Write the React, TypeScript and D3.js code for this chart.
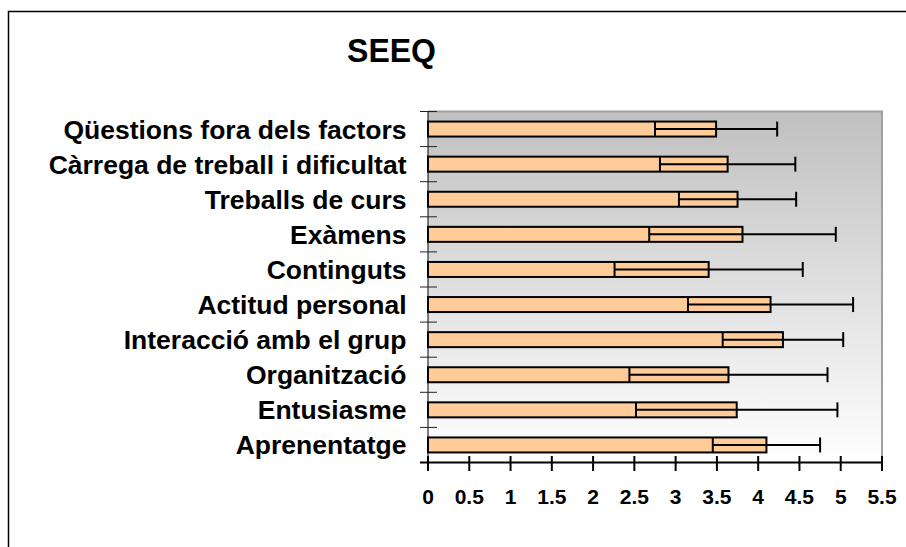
import React from "react";
import * as d3 from "d3";

const title = "SEEQ";
const categories = [
  "Qüestions fora dels factors",
  "Càrrega de treball i dificultat",
  "Treballs de curs",
  "Exàmens",
  "Continguts",
  "Actitud personal",
  "Interacció amb el grup",
  "Organització",
  "Entusiasme",
  "Aprenentatge",
];
const means = [3.49, 3.63, 3.75, 3.81, 3.4, 4.15, 4.3, 3.64, 3.74, 4.1];
const sds = [0.74, 0.82, 0.71, 1.13, 1.14, 1.0, 0.73, 1.2, 1.22, 0.65];
const xTicks = [0, 0.5, 1, 1.5, 2, 2.5, 3, 3.5, 4, 4.5, 5, 5.5];

const W = 906;
const H = 547;
const plot = { left: 428, right: 882, top: 111.5, bottom: 462.5 };
const FONT = "'Liberation Sans', Arial, sans-serif";

export default function App() {
  const x = d3.scaleLinear().domain([0, 5.5]).range([plot.left, plot.right]);
  const band = (plot.bottom - plot.top) / categories.length;
  const barH = 15;

  return (
    <svg
      width={W}
      height={H}
      style={{ position: "absolute", left: 0, top: 0, background: "#fff" }}
    >
      <defs>
        <linearGradient id="bg" x1="0" y1="0" x2="0" y2="1">
          <stop offset="0%" stopColor="#c0c0c0" />
          <stop offset="100%" stopColor="#ffffff" />
        </linearGradient>
      </defs>
      {/* outer frame */}
      <path d={`M8.5,${H} V11.5 H${W}`} fill="none" stroke="#000" strokeWidth={1.5} />

      <text
        transform={`translate(391.5,61.5) scale(0.97,1.03)`}
        textAnchor="middle"
        fontFamily={FONT}
        fontWeight="bold"
        fontSize={33}
      >
        {title}
      </text>

      {/* plot area */}
      <rect
        x={plot.left}
        y={plot.top}
        width={plot.right - plot.left}
        height={plot.bottom - plot.top}
        fill="url(#bg)"
      />
      <path
        d={`M${plot.left},${plot.top} H${plot.right} V${plot.bottom}`}
        fill="none"
        stroke="#a0a0a0"
        strokeWidth={2}
      />
      {/* y axis */}
      <line x1={plot.left} x2={plot.left} y1={plot.top} y2={plot.bottom} stroke="#000" strokeWidth={1} />
      {d3.range(categories.length + 1).map((i) => (
        <line
          key={"yt" + i}
          x1={420}
          x2={437}
          y1={plot.top + i * band}
          y2={plot.top + i * band}
          stroke="#222"
          strokeWidth={1}
        />
      ))}

      {/* bars */}
      {categories.map((c, i) => {
        const cy = plot.top + (i + 0.5) * band;
        const m = means[i];
        const s = sds[i];
        return (
          <g key={c}>
            <rect
              x={x(0)}
              y={cy - barH / 2}
              width={x(m) - x(0)}
              height={barH}
              fill="#ffcc99"
              stroke="#000"
              strokeWidth={2}
            />
            <line x1={x(m - s)} x2={x(m + s)} y1={cy} y2={cy} stroke="#000" strokeWidth={2} />
            <line x1={x(m - s)} x2={x(m - s)} y1={cy - barH / 2} y2={cy + barH / 2} stroke="#000" strokeWidth={2} />
            <line x1={x(m + s)} x2={x(m + s)} y1={cy - barH / 2} y2={cy + barH / 2} stroke="#000" strokeWidth={2} />
            <text
              x={406.5}
              y={cy + 9.5}
              textAnchor="end"
              fontFamily={FONT}
              fontWeight="bold"
              fontSize={26.5}
            >
              {c}
            </text>
          </g>
        );
      })}

      {/* x axis */}
      <line x1={420} x2={plot.right} y1={plot.bottom} y2={plot.bottom} stroke="#000" strokeWidth={2} />
      {xTicks.map((t) => (
        <g key={"xt" + t}>
          <line x1={x(t)} x2={x(t)} y1={456} y2={471} stroke="#000" strokeWidth={2} />
          <text
            transform={`translate(${x(t)},503.5) scale(1.05,1.05)`}
            textAnchor="middle"
            fontFamily={FONT}
            fontWeight="bold"
            fontSize={20}
          >
            {String(t)}
          </text>
        </g>
      ))}
    </svg>
  );
}
